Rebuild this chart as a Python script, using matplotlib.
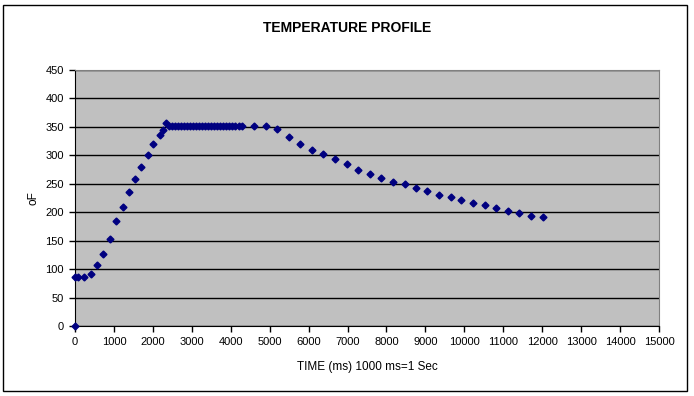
import matplotlib.pyplot as plt
from matplotlib.patches import Rectangle

plt.rcParams['font.family'] = ['Liberation Sans', 'DejaVu Sans']

# Time (ms) and temperature (oF)
time_ms = [0, 0, 86, 231, 419, 574, 719, 899, 1053, 1224, 1378, 1533, 1687, 1866,
           2012, 2183, 2268, 2338, 2406,
           2480, 2560, 2640, 2710, 2790, 2870, 2950, 3030, 3100, 3180, 3260, 3340,
           3420, 3490, 3570, 3650, 3730, 3810, 3880, 3960, 4040, 4120, 4200, 4290,
           4606, 4914, 5197, 5505, 5780, 6088, 6371, 6671, 6979, 7262, 7578, 7853,
           8161, 8469, 8752, 9050, 9342, 9651, 9923, 10223, 10524, 10807, 11115,
           11398, 11706, 12014]
temp_f = [0, 87, 87, 86, 91, 107, 127, 153, 185, 210, 236, 258, 280, 301,
          320, 335, 345, 356, 352,
          352, 352, 352, 352, 352, 352, 352, 352, 352, 352, 352, 352,
          352, 352, 352, 352, 352, 352, 352, 352, 352, 352, 352, 352,
          352, 352, 347, 332, 320, 310, 302, 293, 284, 275, 268, 261,
          254, 249, 242, 237, 231, 226, 222, 216, 212, 207, 203,
          198, 194, 191]

fig = plt.figure(figsize=(6.94, 3.96), dpi=100)
fig.patches.append(Rectangle((3 / 694, 5 / 396), 684 / 694, 386 / 396,
                             transform=fig.transFigure, fill=False,
                             edgecolor='black', linewidth=1))

ax = fig.add_axes([75 / 694, 1 - 326 / 396, 584 / 694, 256 / 396])
ax.set_facecolor('#C0C0C0')
ax.plot(time_ms, temp_f, linestyle='none', marker='D', markersize=3.5,
        color='#000080', clip_on=False, zorder=3)

ax.set_xlim(0, 15000)
ax.set_ylim(0, 450)
ax.set_xticks(range(0, 15001, 1000))
ax.set_yticks(range(0, 451, 50))
ax.yaxis.grid(True, color='black', linewidth=1)
ax.set_axisbelow(True)

for side in ['top', 'right']:
    ax.spines[side].set_color('#808080')
for side in ['left', 'bottom']:
    ax.spines[side].set_color('black')
ax.tick_params(direction='out', length=4, width=1, labelsize=8, pad=4)

fig.text(0.5, 1 - 28 / 396, 'TEMPERATURE PROFILE', fontsize=10,
         fontweight='bold', ha='center', va='center')
ax.set_xlabel('TIME (ms) 1000 ms=1 Sec', fontsize=8.5, labelpad=10)
ax.set_ylabel('oF', fontsize=8.5, labelpad=4)

fig.savefig('out.png', dpi=100)
